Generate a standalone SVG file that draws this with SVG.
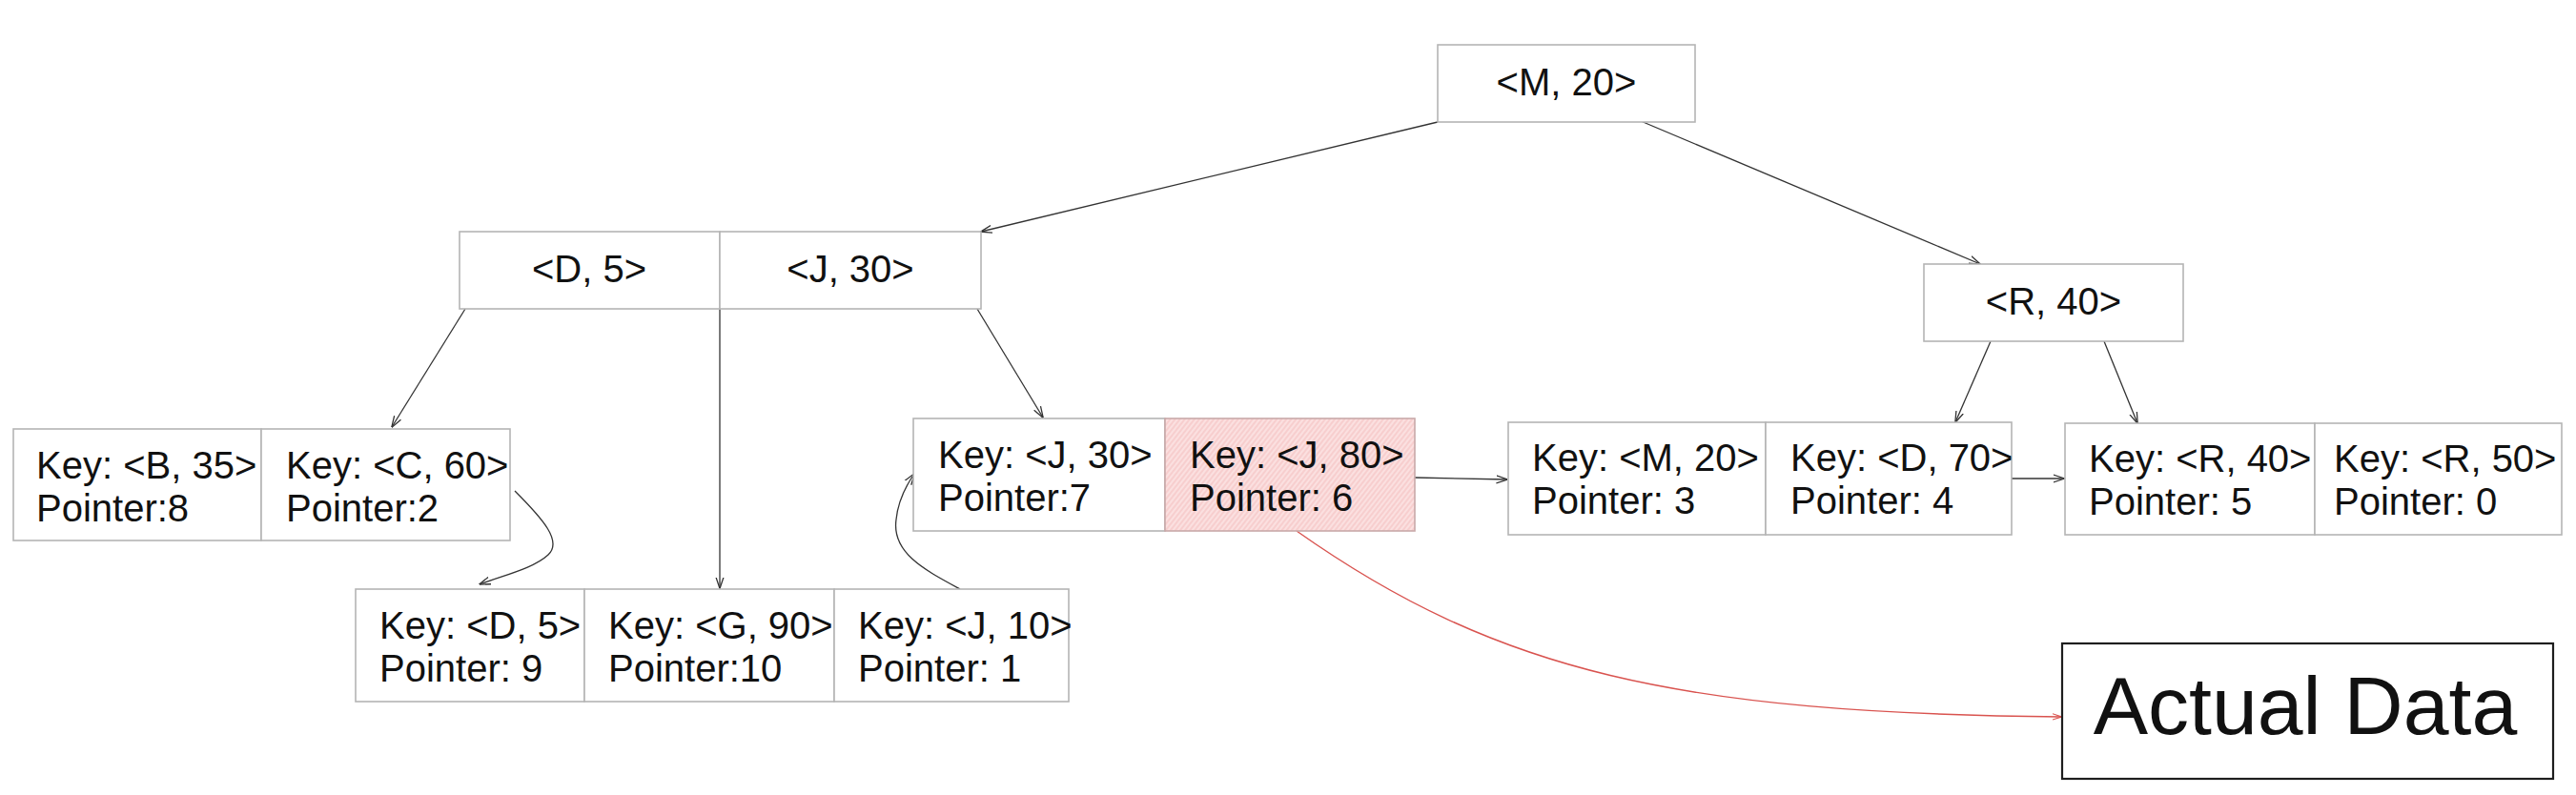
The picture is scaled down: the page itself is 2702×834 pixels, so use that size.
<svg xmlns="http://www.w3.org/2000/svg" width="2702" height="834" viewBox="0 0 2702 834">
<style>
.box{fill:#ffffff;stroke:#b5b5b5;stroke-width:1.6}
.t{font-family:"Liberation Sans","DejaVu Sans",sans-serif;font-size:40px;fill:#111111}
.c{text-anchor:middle}
.ln{fill:none;stroke:#333333;stroke-width:1.3}
.red{fill:none;stroke:#d9534f;stroke-width:1.4}
</style>
<defs>
<marker id="ah" viewBox="0 0 12 10" refX="11.5" refY="5" markerWidth="12" markerHeight="10" markerUnits="userSpaceOnUse" orient="auto">
<path d="M0,1 L12,5 L0,9" fill="none" stroke="#333333" stroke-width="1.3"/>
</marker>
<marker id="ahr" viewBox="0 0 12 10" refX="11.5" refY="5" markerWidth="10" markerHeight="8" markerUnits="userSpaceOnUse" orient="auto">
<path d="M0,1 L12,5 L0,9" fill="none" stroke="#d9534f" stroke-width="1.4"/>
</marker>
<pattern id="hatch" width="4" height="4" patternUnits="userSpaceOnUse" patternTransform="rotate(-52)">
<rect width="4" height="4" fill="#fbe0e0"/>
<line x1="0" y1="2" x2="4" y2="2" stroke="#f4bcbc" stroke-width="1"/>
</pattern>
</defs>

<g id="connectors">
<path class="ln" d="M1508,128 L1029,243" marker-end="url(#ah)"/>
<path class="ln" d="M1721,127 L2077,277" marker-end="url(#ah)"/>
<path class="ln" d="M488,324 L411,448" marker-end="url(#ah)"/>
<path class="ln" d="M755,324 L755,617" marker-end="url(#ah)"/>
<path class="ln" d="M1025,324 L1094,438" marker-end="url(#ah)"/>
<path class="ln" d="M540,515 C570,545 590,568 575,582 C560,596 530,603 503,613" marker-end="url(#ah)"/>
<path class="ln" d="M1007,618 C970,598 935,580 940,545 C942,525 950,510 959,497" marker-end="url(#ah)"/>
<path class="ln" d="M1484,501 L1581,503" marker-end="url(#ah)"/>
<path class="ln" d="M2110,502 L2165,502" marker-end="url(#ah)"/>
<path class="ln" d="M2088,358 L2051,443" marker-end="url(#ah)"/>
<path class="ln" d="M2207,358 L2242,444" marker-end="url(#ah)"/>
<path class="red" d="M1360,557 C1570,705 1760,748 2162,752" marker-end="url(#ahr)"/>
</g>

<g id="root">
<rect class="box" x="1508" y="47" width="270" height="81"/>
<text class="t c" x="1643" y="100">&lt;M, 20&gt;</text>
</g>

<g id="inner-d5">
<rect class="box" x="482" y="243" width="273" height="81"/>
<text class="t c" x="618" y="296">&lt;D, 5&gt;</text>
</g>
<g id="inner-j30">
<rect class="box" x="755" y="243" width="274" height="81"/>
<text class="t c" x="892" y="296">&lt;J, 30&gt;</text>
</g>

<g id="inner-r40">
<rect class="box" x="2018" y="277" width="272" height="81"/>
<text class="t c" x="2154" y="330">&lt;R, 40&gt;</text>
</g>

<g id="leaf-b35">
<rect class="box" x="14" y="450" width="260" height="117"/>
<text class="t" x="38" y="502">Key: &lt;B, 35&gt;</text>
<text class="t" x="38" y="547">Pointer:8</text>
</g>
<g id="leaf-c60">
<rect class="box" x="274" y="450" width="261" height="117"/>
<text class="t" x="300" y="502">Key: &lt;C, 60&gt;</text>
<text class="t" x="300" y="547">Pointer:2</text>
</g>

<g id="leaf-d5">
<rect class="box" x="373" y="618" width="240" height="118"/>
<text class="t" x="398" y="670">Key: &lt;D, 5&gt;</text>
<text class="t" x="398" y="715">Pointer: 9</text>
</g>
<g id="leaf-g90">
<rect class="box" x="613" y="618" width="262" height="118"/>
<text class="t" x="638" y="670">Key: &lt;G, 90&gt;</text>
<text class="t" x="638" y="715">Pointer:10</text>
</g>
<g id="leaf-j10">
<rect class="box" x="875" y="618" width="246" height="118"/>
<text class="t" x="900" y="670">Key: &lt;J, 10&gt;</text>
<text class="t" x="900" y="715">Pointer: 1</text>
</g>

<g id="leaf-j30">
<rect class="box" x="958" y="439" width="264" height="118"/>
<text class="t" x="984" y="491">Key: &lt;J, 30&gt;</text>
<text class="t" x="984" y="536">Pointer:7</text>
</g>
<g id="leaf-j80">
<rect x="1222" y="439" width="262" height="118" fill="url(#hatch)" stroke="#c9a9a9" stroke-width="1.6"/>
<text class="t" x="1248" y="491">Key: &lt;J, 80&gt;</text>
<text class="t" x="1248" y="536">Pointer: 6</text>
</g>

<g id="leaf-m20">
<rect class="box" x="1582" y="443" width="270" height="118"/>
<text class="t" x="1607" y="494">Key: &lt;M, 20&gt;</text>
<text class="t" x="1607" y="539">Pointer: 3</text>
</g>
<g id="leaf-d70">
<rect class="box" x="1852" y="443" width="258" height="118"/>
<text class="t" x="1878" y="494">Key: &lt;D, 70&gt;</text>
<text class="t" x="1878" y="539">Pointer: 4</text>
</g>

<g id="leaf-r40">
<rect class="box" x="2166" y="444" width="262" height="117"/>
<text class="t" x="2191" y="495">Key: &lt;R, 40&gt;</text>
<text class="t" x="2191" y="540">Pointer: 5</text>
</g>
<g id="leaf-r50">
<rect class="box" x="2428" y="444" width="259" height="117"/>
<text class="t" x="2448" y="495">Key: &lt;R, 50&gt;</text>
<text class="t" x="2448" y="540">Pointer: 0</text>
</g>

<g id="actual-data">
<rect x="2163" y="675" width="515" height="142" fill="#ffffff" stroke="#1e1e1e" stroke-width="2.2"/>
<text class="t c" x="2418" y="770" style="font-size:86px">Actual Data</text>
</g>
</svg>
